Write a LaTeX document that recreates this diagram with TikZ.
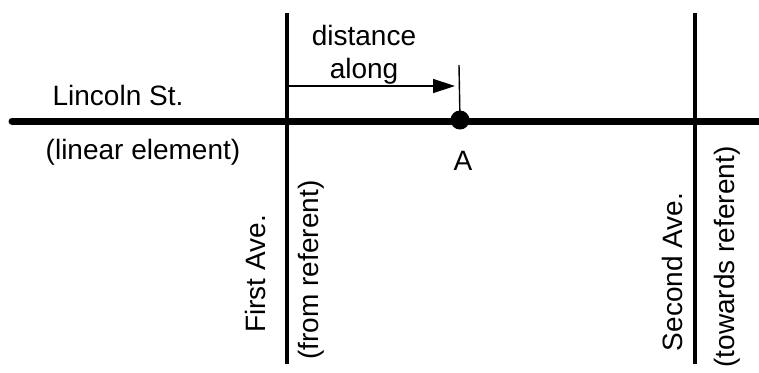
\documentclass[tikz,border=0pt]{standalone}
\usepackage{fontspec}
\setmainfont{Liberation Sans}
\usetikzlibrary{arrows.meta,positioning}
\tikzset{
  road/.style={line width=7pt,line cap=round},
  avenue/.style={line width=4.5pt},
  fine/.style={line width=1.4pt},
  flow/.style={-{Triangle[length=22pt,width=14pt]},fine},
  labeltext/.style={font=\fontsize{28}{32}\selectfont,inner sep=0pt,anchor=base}
}

\begin{document}
\begin{tikzpicture}[x=1pt,y=-1pt]
\useasboundingbox (0,0) rectangle (759,372);
% streets
\coordinate (lincW) at (12,121);
\coordinate (lincE) at (762,121);
\draw[road] (lincW) -- (lincE);
\foreach \n/\x in {first/287,second/695}{
  \coordinate (\n N) at (\x,13);
  \coordinate (\n S) at (\x,364);
  \draw[avenue] (\n N) -- (\n S);
}
% point A and distance along
\node[circle,fill,minimum size=19pt,inner sep=0pt] (ptA) at (460,120) {};
\coordinate (tick) at (459,65);
\draw[fine] (ptA.center) -- (tick);
\coordinate (arrS) at (289,86);
\coordinate (arrE) at (455,86);
\draw[flow] (arrS) -- (arrE);
% labels
\node[labeltext] (dist) at (364,45) {distance};
\node[labeltext] (along) at (364,78) {along};
\node[labeltext] (lblA) at (463,170) {A};
\node[labeltext] (lincoln) at (118,105) {Lincoln St.};
\node[labeltext] (linear) at (143,159) {(linear element)};
\node[labeltext,rotate=90] (first) at (265,274) {First Ave.};
\node[labeltext,rotate=90] (fromref) at (318,270) {(from referent)};
\node[labeltext,rotate=90] (second) at (682,272) {Second Ave.};
\node[labeltext,rotate=90] (towref) at (734,257) {(towards referent)};
\end{tikzpicture}
\end{document}
